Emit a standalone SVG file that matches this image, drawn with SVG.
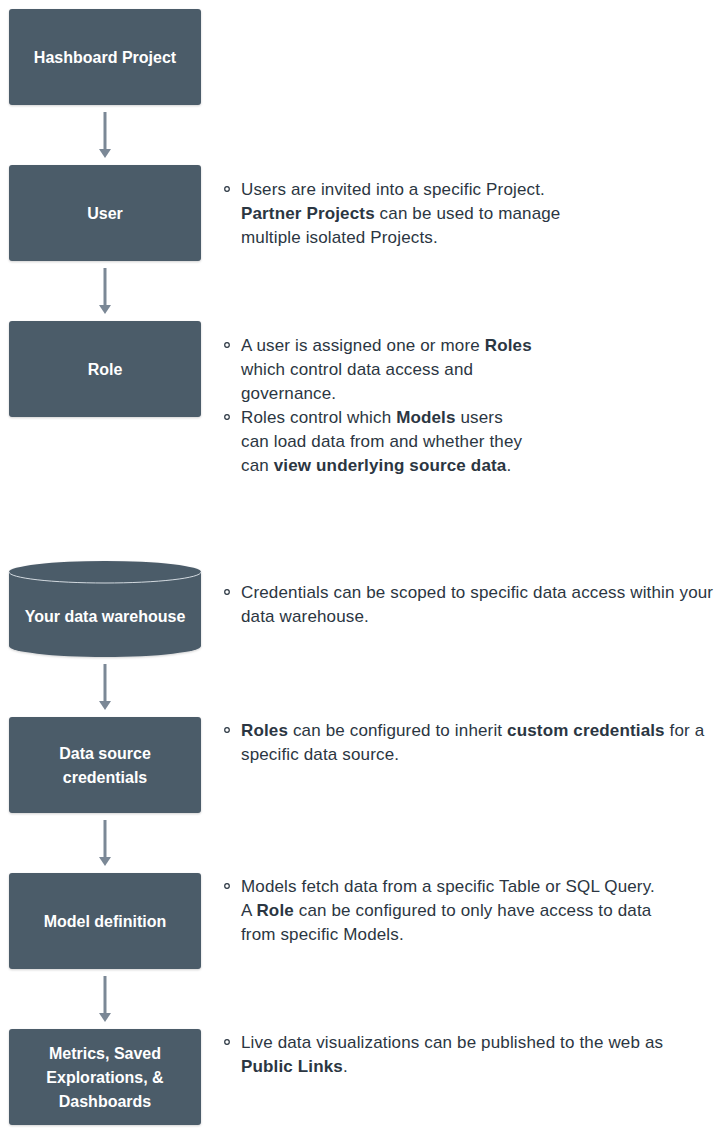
<svg xmlns="http://www.w3.org/2000/svg" width="723" height="1134" viewBox="0 0 723 1134">
<defs>
<style>
.box{fill:#4b5b69;}
.lbl{fill:#ffffff;font-family:"Liberation Sans",Arial,sans-serif;font-size:16px;font-weight:bold;text-anchor:middle;}
.txt{fill:#2b3642;font-family:"Liberation Sans",Arial,sans-serif;font-size:17px;letter-spacing:0.15px;}
.b{font-weight:bold;}
.bul{fill:none;stroke:#2b3642;stroke-width:1.2;}
.conn{stroke:#7b8896;stroke-width:3;fill:none;}
.head{fill:#7b8896;}
</style>
<filter id="sh" x="-10%" y="-10%" width="120%" height="130%">
<feDropShadow dx="0" dy="1" stdDeviation="1" flood-color="#000" flood-opacity="0.18"/>
</filter>
</defs>
<rect width="723" height="1134" fill="#ffffff"/>

<g id="connectors">
<line class="conn" x1="105" y1="112" x2="105" y2="150"/><polygon class="head" points="99,149 111,149 105,158"/>
<line class="conn" x1="105" y1="268" x2="105" y2="306"/><polygon class="head" points="99,305 111,305 105,314"/>
<line class="conn" x1="105" y1="664" x2="105" y2="702"/><polygon class="head" points="99,701 111,701 105,710"/>
<line class="conn" x1="105" y1="820" x2="105" y2="858"/><polygon class="head" points="99,857 111,857 105,866"/>
<line class="conn" x1="105" y1="976" x2="105" y2="1014"/><polygon class="head" points="99,1013 111,1013 105,1022"/>
</g>

<g id="project">
<rect class="box" x="9" y="9" width="192" height="96" rx="3" filter="url(#sh)"/>
<text class="lbl" x="105" y="63">Hashboard Project</text>
</g>

<g id="user">
<rect class="box" x="9" y="165" width="192" height="96" rx="3" filter="url(#sh)"/>
<text class="lbl" x="105" y="219">User</text>
<circle class="bul" cx="227" cy="189" r="2.3"/>
<text class="txt" x="241" y="195">Users are invited into a specific Project.</text>
<text class="txt" x="241" y="219"><tspan class="b">Partner Projects</tspan> can be used to manage</text>
<text class="txt" x="241" y="243">multiple isolated Projects.</text>
</g>

<g id="role">
<rect class="box" x="9" y="321" width="192" height="96" rx="3" filter="url(#sh)"/>
<text class="lbl" x="105" y="375">Role</text>
<circle class="bul" cx="227" cy="345" r="2.3"/>
<text class="txt" x="241" y="351">A user is assigned one or more <tspan class="b">Roles</tspan></text>
<text class="txt" x="241" y="375">which control data access and</text>
<text class="txt" x="241" y="399">governance.</text>
<circle class="bul" cx="227" cy="417" r="2.3"/>
<text class="txt" x="241" y="423">Roles control which <tspan class="b">Models</tspan> users</text>
<text class="txt" x="241" y="447">can load data from and whether they</text>
<text class="txt" x="241" y="471">can <tspan class="b">view underlying source data</tspan>.</text>
</g>

<g id="warehouse">
<path class="box" d="M9,572 A96,11 0 0 1 201,572 V646 A96,11 0 0 1 9,646 Z" filter="url(#sh)"/>
<path d="M9,572 A96,11 0 0 0 201,572" fill="none" stroke="#d3dae0" stroke-width="1"/>
<text class="lbl" x="105" y="622">Your data warehouse</text>
<circle class="bul" cx="227" cy="592" r="2.3"/>
<text class="txt" x="241" y="598">Credentials can be scoped to specific data access within your</text>
<text class="txt" x="241" y="622">data warehouse.</text>
</g>

<g id="credentials">
<rect class="box" x="9" y="717" width="192" height="96" rx="3" filter="url(#sh)"/>
<text class="lbl" x="105" y="759">Data source</text>
<text class="lbl" x="105" y="783">credentials</text>
<circle class="bul" cx="227" cy="730" r="2.3"/>
<text class="txt" x="241" y="736"><tspan class="b">Roles</tspan> can be configured to inherit <tspan class="b">custom credentials</tspan> for a</text>
<text class="txt" x="241" y="760">specific data source.</text>
</g>

<g id="model">
<rect class="box" x="9" y="873" width="192" height="96" rx="3" filter="url(#sh)"/>
<text class="lbl" x="105" y="927">Model definition</text>
<circle class="bul" cx="227" cy="886" r="2.3"/>
<text class="txt" x="241" y="892">Models fetch data from a specific Table or SQL Query.</text>
<text class="txt" x="241" y="916">A <tspan class="b">Role</tspan> can be configured to only have access to data</text>
<text class="txt" x="241" y="940">from specific Models.</text>
</g>

<g id="outputs">
<rect class="box" x="9" y="1029" width="192" height="96" rx="3" filter="url(#sh)"/>
<text class="lbl" x="105" y="1059">Metrics, Saved</text>
<text class="lbl" x="105" y="1083">Explorations, &amp;</text>
<text class="lbl" x="105" y="1107">Dashboards</text>
<circle class="bul" cx="227" cy="1042" r="2.3"/>
<text class="txt" x="241" y="1048">Live data visualizations can be published to the web as</text>
<text class="txt" x="241" y="1072"><tspan class="b">Public Links</tspan>.</text>
</g>
</svg>
